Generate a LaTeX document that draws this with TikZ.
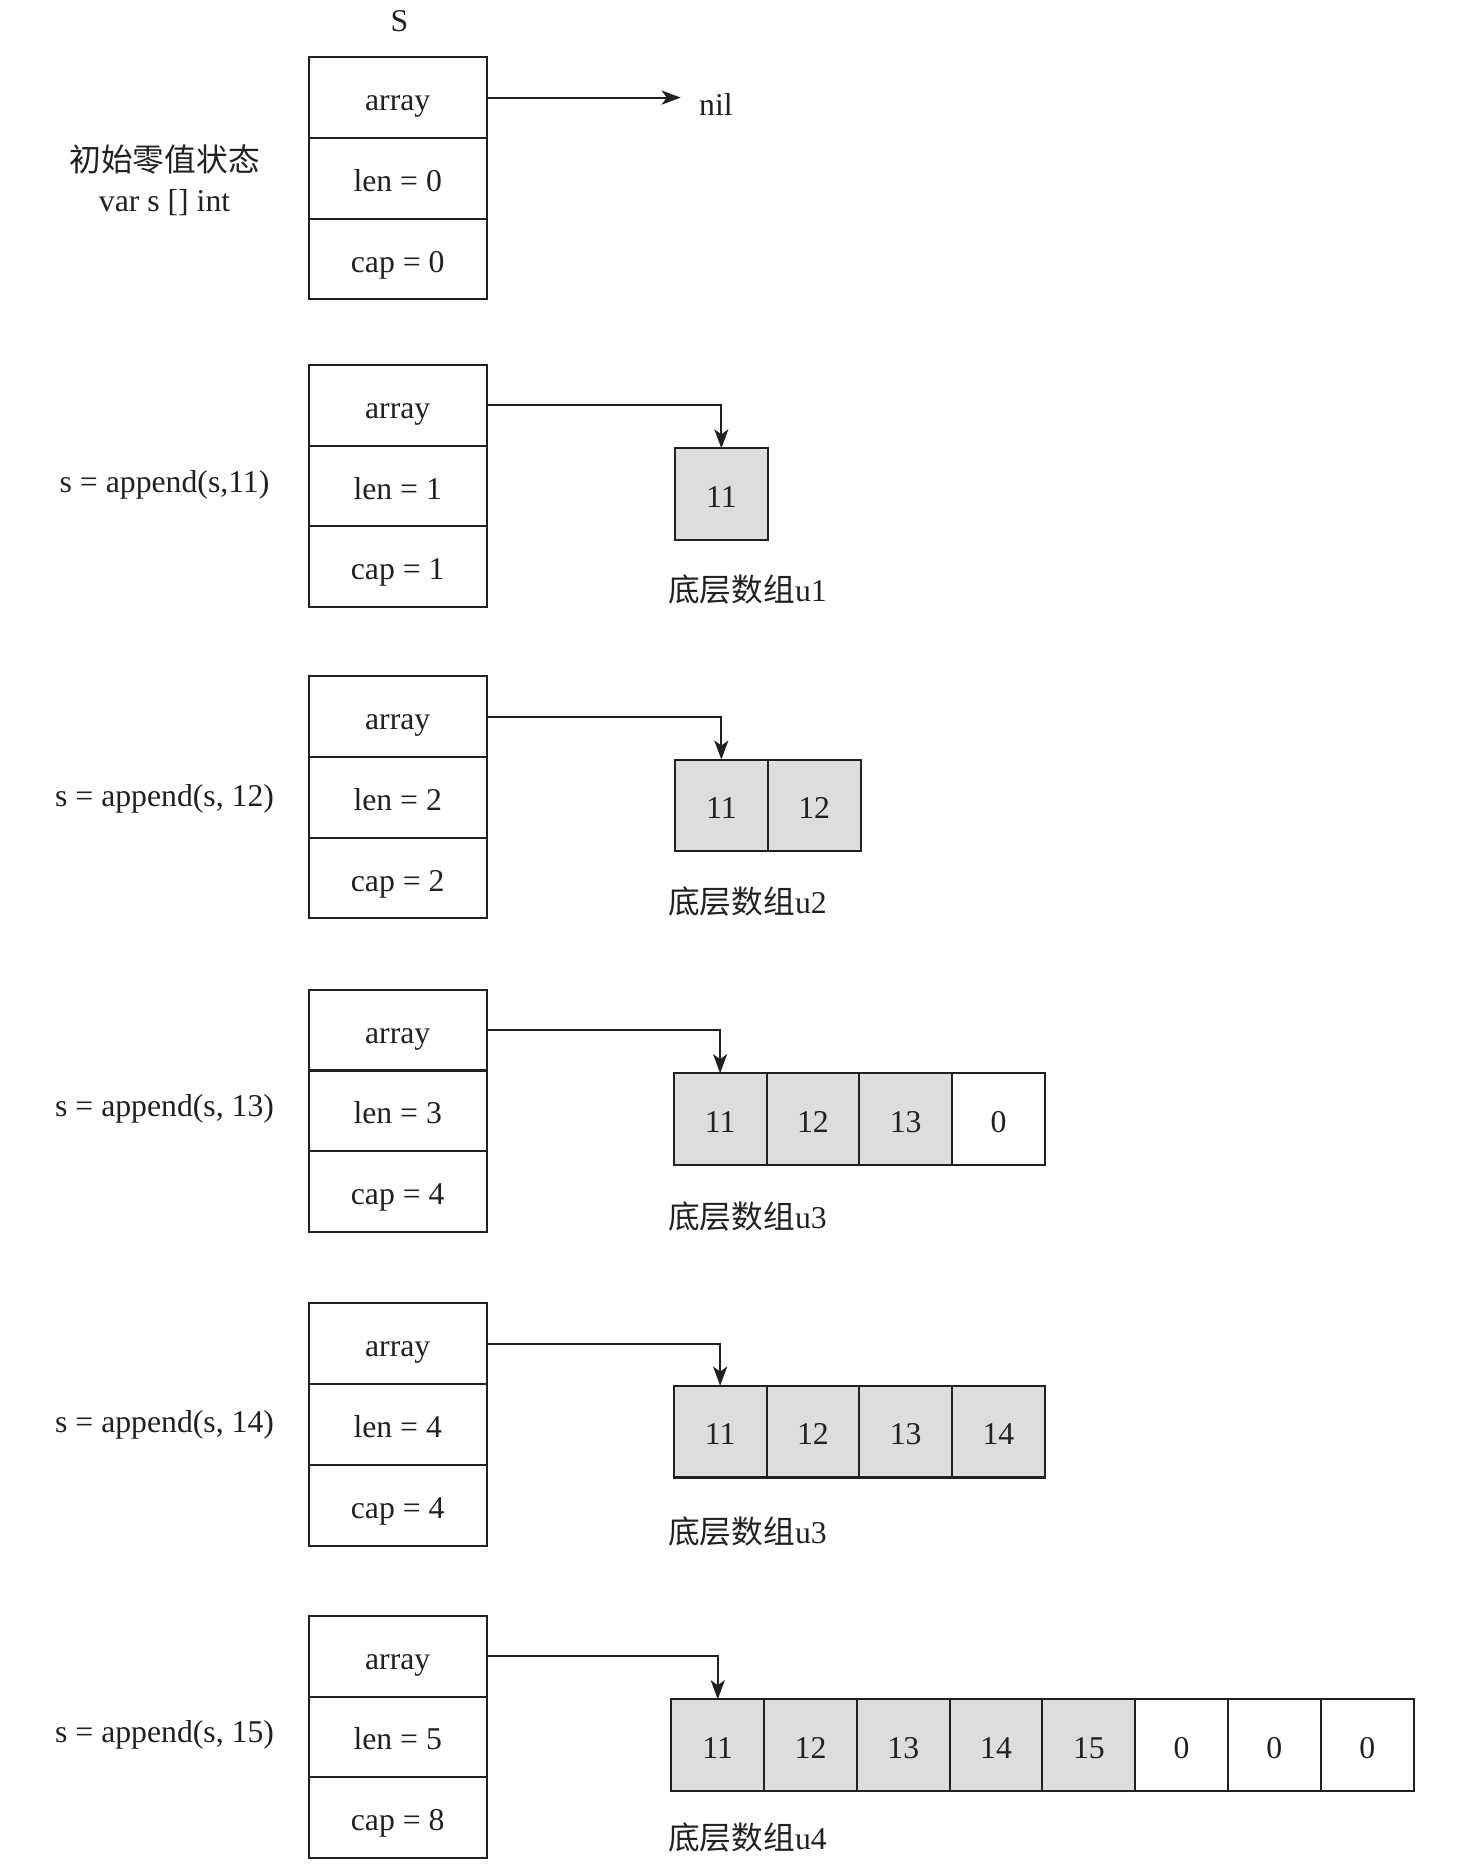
\documentclass[tikz,border=0pt]{standalone}
\usepackage{fontspec}
\setmainfont{Liberation Serif}
\newfontfamily\cjk{Noto Sans CJK SC}
\usetikzlibrary{arrows.meta}
\definecolor{cellgray}{RGB}{221,221,221}
\definecolor{ink}{RGB}{35,31,32}
\newcommand{\mystruct}[4]{%
  \node[field] (#1a) at (259,#2) {array};
  \node[field] (#1l) at (#1a.south west) {len = #3};
  \node[field] (#1c) at (#1l.south west) {cap = #4};}
\begin{document}
\begin{tikzpicture}[x=0.594pt,y=-0.594pt,
  font=\fontsize{15.8}{18}\selectfont,
  field/.style={draw=ink, line width=1pt, minimum width=149*0.594pt,
    minimum height=67.7*0.594pt, inner sep=0pt, outer sep=0pt, anchor=north west,
    text=ink, text height=1.4em, text depth=0.1em},
  cell/.style={draw=ink, line width=1pt, fill=cellgray, minimum width=77.8*0.594pt,
    minimum height=77*0.594pt, inner sep=0pt, outer sep=0pt, anchor=north west,
    text=ink, text height=1.34em, text depth=0.05em},
  emptycell/.style={cell, fill=white},
  ptr/.style={draw=ink, line width=1pt, -{Stealth[length=9.5pt,width=7pt,inset=2.5pt]}},
  lbl/.style={inner sep=0pt, text=ink},
  ]
\useasboundingbox (0,0) rectangle (1235,1569);

% ---- row 1: zero value
\node[lbl] (title) at (335,18) {S};
\mystruct{s1}{48}{0}{0}
\node[lbl] (d1a) at (138,134) {\cjk 初始零值状态};
\node[lbl] (d1b) at (138,170) {var s [] int};
\node[lbl, anchor=west] (nil) at (586,88) {nil};
\draw[ptr] (s1a.east) -- ([xshift=-9pt]nil.west |- s1a.east);

% ---- row 2
\mystruct{s2}{306}{1}{1}
\node[lbl] (d2) at (138,407) {s = append(s,11)};
\node[cell] (r2c1) at (566,376) {11};
\node[lbl, anchor=west] (u2) at (560,494) {{\cjk 底层数组}u1};
\draw[ptr] (s2a.east) -| (r2c1.north);

% ---- row 3
\mystruct{s3}{567}{2}{2}
\node[lbl] (d3) at (138,670) {s = append(s, 12)};
\node[cell] (r3c1) at (566,637) {11};
\node[cell] (r3c2) at (r3c1.north east) {12};
\node[lbl, anchor=west] (u3) at (560,756) {{\cjk 底层数组}u2};
\draw[ptr] (s3a.east) -| (r3c1.north);

% ---- row 4
\mystruct{s4}{830}{3}{4}
\node[lbl] (d4) at (138,930) {s = append(s, 13)};
\node[cell] (r4c1) at (565,900) {11};
\node[cell] (r4c2) at (r4c1.north east) {12};
\node[cell] (r4c3) at (r4c2.north east) {13};
\node[emptycell] (r4c4) at (r4c3.north east) {0};
\node[lbl, anchor=west] (u4) at (560,1020) {{\cjk 底层数组}u3};
\draw[ptr] (s4a.east) -| (r4c1.north);

% ---- row 5
\mystruct{s5}{1093}{4}{4}
\node[lbl] (d5) at (138,1195) {s = append(s, 14)};
\node[cell] (r5c1) at (565,1162) {11};
\node[cell] (r5c2) at (r5c1.north east) {12};
\node[cell] (r5c3) at (r5c2.north east) {13};
\node[cell] (r5c4) at (r5c3.north east) {14};
\node[lbl, anchor=west] (u5) at (560,1284) {{\cjk 底层数组}u3};
\draw[ptr] (s5a.east) -| (r5c1.north);

% ---- row 6
\mystruct{s6}{1355}{5}{8}
\node[lbl] (d6) at (138,1455) {s = append(s, 15)};
\node[cell] (r6c1) at (563,1425) {11};
\node[cell] (r6c2) at (r6c1.north east) {12};
\node[cell] (r6c3) at (r6c2.north east) {13};
\node[cell] (r6c4) at (r6c3.north east) {14};
\node[cell] (r6c5) at (r6c4.north east) {15};
\node[emptycell] (r6c6) at (r6c5.north east) {0};
\node[emptycell] (r6c7) at (r6c6.north east) {0};
\node[emptycell] (r6c8) at (r6c7.north east) {0};
\node[lbl, anchor=west] (u6) at (560,1541) {{\cjk 底层数组}u4};
\draw[ptr] (s6a.east) -| (r6c1.north);
\end{tikzpicture}
\end{document}
